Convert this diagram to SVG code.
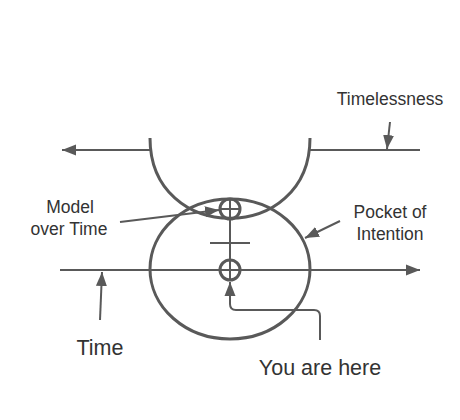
<svg xmlns="http://www.w3.org/2000/svg" width="460" height="420" viewBox="0 0 460 420">
<style>
.ln{fill:none;stroke:#595959;stroke-width:2}
.sh{fill:none;stroke:#595959;stroke-width:3}
.tx{font-family:"Liberation Sans",Arial,sans-serif;fill:#333;text-anchor:middle}
.s{font-size:17.5px}
.b{font-size:21.5px}
</style>
<defs>
<marker id="ah" markerUnits="userSpaceOnUse" markerWidth="15" markerHeight="12" refX="14" refY="6" orient="auto">
<path d="M0,0.5 L14,6 L0,11.5 z" fill="#595959"/>
</marker>
</defs>
<rect width="460" height="420" fill="#fff"/>
<g id="timelessness-arc">
<path class="sh" d="M150,138 C150,245 310,245 310,138"/>
</g>
<g id="pocket-of-intention">
<ellipse class="sh" cx="230" cy="269" rx="80" ry="70"/>
</g>
<g id="model-point">
<circle class="sh" cx="230" cy="209" r="10"/>
<line class="ln" x1="220" y1="209" x2="240" y2="209"/>
</g>
<g id="you-are-here-point">
<circle class="sh" cx="230" cy="270" r="10"/>
</g>
<g id="tick">
<line class="ln" x1="210" y1="243" x2="250" y2="243"/>
</g>
<g id="connectors">
<line class="ln" x1="310" y1="150" x2="420" y2="150"/>
<line class="ln" x1="150" y1="150" x2="62" y2="150" marker-end="url(#ah)"/>
<line class="ln" x1="230" y1="199" x2="230" y2="280"/>
<line class="ln" x1="60" y1="270" x2="420" y2="270" marker-end="url(#ah)"/>
<line class="ln" x1="120" y1="222" x2="219" y2="210" marker-end="url(#ah)"/>
<line class="ln" x1="340" y1="221" x2="305" y2="238" marker-end="url(#ah)"/>
<line class="ln" x1="390" y1="122" x2="387" y2="149" marker-end="url(#ah)"/>
<line class="ln" x1="100" y1="320" x2="102" y2="272" marker-end="url(#ah)"/>
<path class="ln" d="M320,340 L320,316 Q320,310 314,310 L236,310 Q230,310 230,304 L230,282" marker-end="url(#ah)"/>
</g>
<g id="labels">
<text class="tx s" x="390" y="105">Timelessness</text>
<text class="tx s" x="70" y="213">Model</text>
<text class="tx s" x="69" y="235">over Time</text>
<text class="tx s" x="390" y="218">Pocket of</text>
<text class="tx s" x="390" y="240">Intention</text>
<text class="tx b" x="100" y="355">Time</text>
<text class="tx b" x="320" y="375">You are here</text>
</g>
</svg>
